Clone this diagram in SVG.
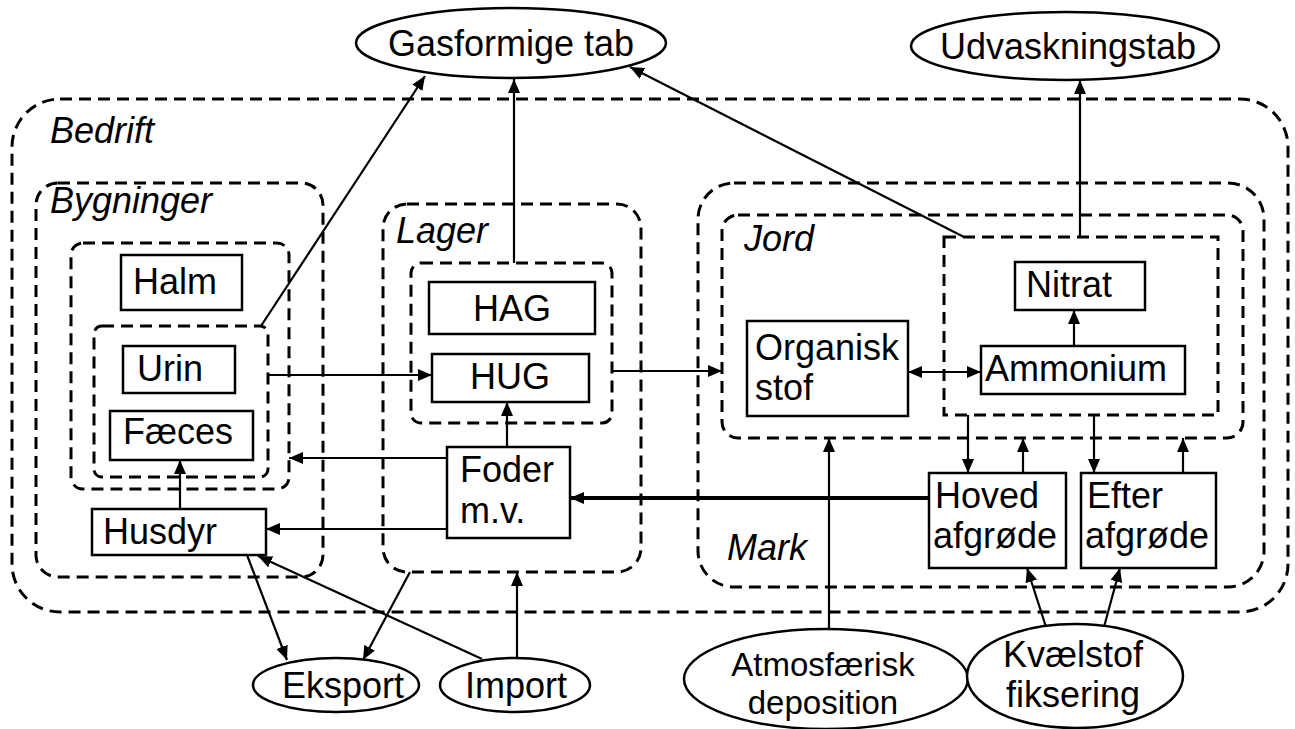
<svg xmlns="http://www.w3.org/2000/svg" width="1295" height="729" viewBox="0 0 1295 729">
<style>
  .frame { fill: none; stroke: #000; stroke-width: 3; stroke-dasharray: 12 7; }
  .box { fill: #fff; stroke: #000; stroke-width: 2.5; }
  .ell { fill: #fff; stroke: #000; stroke-width: 2.5; }
  .t { font-family: "Liberation Sans", Arial, sans-serif; font-size: 36px; fill: #000; }
  .s { font-size: 33px; }
  .m { text-anchor: middle; }
  .it { font-family: "Liberation Sans", Arial, sans-serif; font-size: 36px; font-style: italic; fill: #000; }
  .c { fill: none; stroke: #000; stroke-width: 2.2; marker-end: url(#ah); }
  .thick { stroke-width: 4; }
  .dbl { marker-start: url(#ahs); }
</style>
<defs>
  <marker id="ah" markerWidth="14" markerHeight="12" refX="14" refY="6" orient="auto" markerUnits="userSpaceOnUse">
    <path d="M0,0 L14,6 L0,12 z" fill="#000"/>
  </marker>
  <marker id="ahs" markerWidth="14" markerHeight="12" refX="14" refY="6" orient="auto-start-reverse" markerUnits="userSpaceOnUse">
    <path d="M0,0 L14,6 L0,12 z" fill="#000"/>
  </marker>
</defs>
<rect width="1295" height="729" fill="#fff"/>

<g id="bedrift">
  <rect class="frame" x="12" y="99" width="1276" height="513" rx="48" ry="48"/>
  <text class="it" x="50" y="143">Bedrift</text>
</g>
<g id="bygninger">
  <rect class="frame" x="36" y="183" width="287" height="394" rx="22" ry="22"/>
  <text class="it" x="50" y="213">Bygninger</text>
</g>
<g id="stald">
  <rect class="frame" x="71" y="243" width="218" height="246" rx="12" ry="12"/>
</g>
<g id="goedning">
  <rect class="frame" x="94" y="326" width="174" height="151" rx="8" ry="8"/>
</g>
<g id="lager">
  <rect class="frame" x="383" y="204" width="258" height="368" rx="24" ry="24"/>
  <text class="it" x="396" y="243">Lager</text>
</g>
<g id="lagerindre">
  <rect class="frame" x="411" y="263" width="201" height="160" rx="10" ry="10"/>
</g>
<g id="mark">
  <rect class="frame" x="698" y="183" width="566" height="404" rx="36" ry="36"/>
  <text class="it" x="727" y="560">Mark</text>
</g>
<g id="jord">
  <rect class="frame" x="722" y="215" width="521" height="223" rx="16" ry="16"/>
  <text class="it" x="744" y="251">Jord</text>
</g>
<g id="mineral">
  <rect class="frame" x="944" y="237" width="274" height="178"/>
</g>

<g id="connectors">
  <line class="c" x1="261" y1="326" x2="425" y2="76"/>
  <line class="c" x1="514" y1="263" x2="514" y2="79"/>
  <line class="c" x1="964" y1="237" x2="630" y2="67"/>
  <line class="c" x1="1080" y1="237" x2="1080" y2="80"/>
  <line class="c" x1="268" y1="375" x2="432" y2="375"/>
  <line class="c" x1="612" y1="371" x2="722" y2="371"/>
  <line class="c dbl" x1="908" y1="372" x2="981" y2="372"/>
  <line class="c" x1="1074" y1="346" x2="1074" y2="310"/>
  <line class="c" x1="968" y1="415" x2="968" y2="473"/>
  <line class="c" x1="1023" y1="473" x2="1023" y2="438"/>
  <line class="c" x1="1094" y1="415" x2="1094" y2="473"/>
  <line class="c" x1="1183" y1="473" x2="1183" y2="438"/>
  <line class="c thick" x1="929" y1="498" x2="570" y2="498"/>
  <line class="c" x1="829" y1="630" x2="829" y2="438"/>
  <line class="c" x1="1046" y1="627" x2="1027" y2="568"/>
  <line class="c" x1="1104" y1="627" x2="1120" y2="568"/>
  <line class="c" x1="507" y1="447" x2="507" y2="402"/>
  <line class="c" x1="447" y1="458" x2="289" y2="458"/>
  <line class="c" x1="447" y1="529" x2="266" y2="529"/>
  <line class="c" x1="180" y1="509" x2="180" y2="460"/>
  <line class="c" x1="247" y1="555" x2="287" y2="660"/>
  <line class="c" x1="410" y1="572" x2="363" y2="660"/>
  <line class="c" x1="482" y1="659" x2="258" y2="556"/>
  <line class="c" x1="517" y1="658" x2="517" y2="572"/>
</g>

<g id="halm">
  <rect class="box" x="121" y="255" width="121" height="55"/>
  <text class="t" x="133" y="294">Halm</text>
</g>
<g id="urin">
  <rect class="box" x="123" y="346" width="112" height="47"/>
  <text class="t" x="137" y="381">Urin</text>
</g>
<g id="faeces">
  <rect class="box" x="110" y="411" width="143" height="49"/>
  <text class="t" x="123" y="444">Fæces</text>
</g>
<g id="husdyr">
  <rect class="box" x="92" y="509" width="174" height="46"/>
  <text class="t" x="103" y="544">Husdyr</text>
</g>
<g id="hag">
  <rect class="box" x="429" y="282" width="166" height="52"/>
  <text class="t m" x="512" y="321">HAG</text>
</g>
<g id="hug">
  <rect class="box" x="432" y="354" width="157" height="48"/>
  <text class="t m" x="510" y="389">HUG</text>
</g>
<g id="foder">
  <rect class="box" x="447" y="447" width="123" height="91"/>
  <text class="t" x="460" y="482">Foder</text>
  <text class="t" x="460" y="523">m.v.</text>
</g>
<g id="organisk">
  <rect class="box" x="747" y="321" width="161" height="95"/>
  <text class="t" x="755" y="360">Organisk</text>
  <text class="t" x="755" y="400">stof</text>
</g>
<g id="nitrat">
  <rect class="box" x="1015" y="262" width="130" height="48"/>
  <text class="t" x="1026" y="297">Nitrat</text>
</g>
<g id="ammonium">
  <rect class="box" x="981" y="346" width="204" height="48"/>
  <text class="t" x="985" y="381">Ammonium</text>
</g>
<g id="hoved">
  <rect class="box" x="929" y="473" width="137" height="95"/>
  <text class="t" x="935" y="508">Hoved</text>
  <text class="t" x="933" y="548">afgrøde</text>
</g>
<g id="efter">
  <rect class="box" x="1081" y="473" width="135" height="95"/>
  <text class="t" x="1087" y="508">Efter</text>
  <text class="t" x="1085" y="548">afgrøde</text>
</g>

<g id="gasformige">
  <ellipse class="ell" cx="511" cy="43" rx="155" ry="35"/>
  <text class="t m" x="511" y="56">Gasformige tab</text>
</g>
<g id="udvaskning">
  <ellipse class="ell" cx="1065" cy="46" rx="154" ry="34"/>
  <text class="t m" x="1068" y="59">Udvaskningstab</text>
</g>
<g id="eksport">
  <ellipse class="ell" cx="336" cy="685" rx="83" ry="27"/>
  <text class="t m" x="343" y="698">Eksport</text>
</g>
<g id="import">
  <ellipse class="ell" cx="515" cy="685" rx="75" ry="27"/>
  <text class="t m" x="516" y="698">Import</text>
</g>
<g id="atmosfaerisk">
  <ellipse class="ell" cx="826" cy="679" rx="142" ry="50"/>
  <text class="t s m" x="823" y="676">Atmosfærisk</text>
  <text class="t s m" x="823" y="714">deposition</text>
</g>
<g id="kvaelstof">
  <ellipse class="ell" cx="1075" cy="676" rx="108" ry="52"/>
  <text class="t m" x="1073" y="667">Kvælstof</text>
  <text class="t m" x="1073" y="707">fiksering</text>
</g>
</svg>
